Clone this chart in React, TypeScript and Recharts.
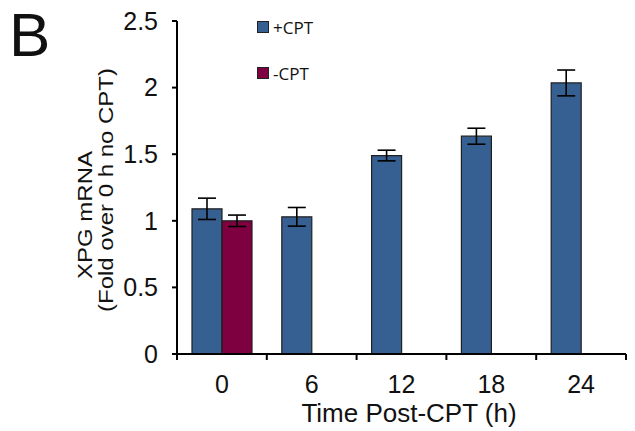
import React from 'react';
import { BarChart, Bar, XAxis, YAxis, ErrorBar, Legend, Label } from 'recharts';

const times = ['0', '6', '12', '18', '24'];
const plusCpt = [1.09, 1.03, 1.49, 1.635, 2.035];
const plusErr = [0.08, 0.07, 0.04, 0.06, 0.097];
const minusCpt = [1.0, null, null, null, null];
const minusErr = [0.043, null, null, null, null];
const yTicks = [0, 0.5, 1, 1.5, 2, 2.5];

const data = times.map((t, i) => ({
  time: t,
  plus: plusCpt[i],
  plusErr: plusErr[i],
  minus: minusCpt[i],
  minusErr: minusErr[i],
}));

const FONT = '"Liberation Sans", Arial, sans-serif';
const INK = '#111';

// Excel-style category axis: tick marks sit on the band edges, labels in the middle
const XTick = (props: any) => {
  const { x, y, payload, index, visibleTicksCount } = props;
  const half = payload.offset || 45;
  return (
    <g>
      <line x1={x - half} x2={x - half} y1={y} y2={y + 6} stroke="#000" strokeWidth={2} />
      {index === visibleTicksCount - 1 && (
        <line x1={x + half} x2={x + half} y1={y} y2={y + 6} stroke="#000" strokeWidth={2} />
      )}
      <text x={x} y={y + 39} textAnchor="middle" fontSize={25} fontFamily={FONT} fill={INK}>
        {payload.value}
      </text>
    </g>
  );
};

const YLabel = () => (
  <g fontFamily={FONT} fontSize={24} fill={INK}>
    <text transform="translate(92,215) scale(0.85,1) rotate(-90)" textAnchor="middle">
      XPG mRNA
    </text>
    <text transform="translate(113,190) scale(0.85,1) rotate(-90)" textAnchor="middle">
      (Fold over 0 h no CPT)
    </text>
  </g>
);

const XLabel = () => (
  <text x={409} y={422} textAnchor="middle" fontFamily={FONT} fontSize={26} fill={INK}>
    Time Post-CPT (h)
  </text>
);

const LegendContent = (props: any) => (
  <div style={{ fontFamily: '"Open Sans", sans-serif', fontSize: 17, color: INK }}>
    {(props.payload || []).map((p: any, i: number) => (
      <div key={i} style={{ display: 'flex', alignItems: 'center', height: 20, marginBottom: 26 }}>
        <span
          style={{
            width: 12,
            height: 12,
            background: p.color,
            border: '1px solid #222',
            boxSizing: 'border-box',
            marginRight: 4,
          }}
        />
        <span>{p.value}</span>
      </div>
    ))}
  </div>
);

export default function App() {
  return (
    <div style={{ position: 'absolute', left: 0, top: 0, width: 635, height: 431, background: '#fff' }}>
      <div
        style={{
          position: 'absolute',
          left: 9,
          top: 4,
          fontFamily: FONT,
          fontSize: 62,
          lineHeight: '62px',
          color: INK,
        }}
      >
        B
      </div>
      <BarChart
        width={635}
        height={431}
        data={data}
        margin={{ top: 21, right: 9, bottom: 0, left: 0 }}
        barCategoryGap="16.7%"
        barGap={0}
      >
        <XAxis
          dataKey="time"
          height={77}
          tickLine={false}
          tickSize={0}
          tickMargin={0}
          axisLine={{ stroke: '#000', strokeWidth: 2 }}
          tick={<XTick />}
          interval={0}
        >
          <Label content={<XLabel />} />
        </XAxis>
        <YAxis
          width={177}
          domain={[0, 2.5]}
          ticks={yTicks}
          interval={0}
          tickSize={5}
          tickMargin={14}
          tickLine={{ stroke: '#000', strokeWidth: 2 }}
          axisLine={{ stroke: '#000', strokeWidth: 2 }}
          tick={{ fontSize: 25, fontFamily: FONT, fill: INK }}
          tickFormatter={(v: number) => String(v)}
        >
          <Label content={<YLabel />} />
        </YAxis>
        <Legend
          layout="vertical"
          align="center"
          verticalAlign="middle"
          content={<LegendContent />}
          wrapperStyle={{ left: 257, top: 17, width: 120, height: 80 }}
        />
        <Bar dataKey="plus" name="+CPT" fill="#376092" stroke="#1f1f1f" strokeWidth={1.2} isAnimationActive={false}>
          <ErrorBar dataKey="plusErr" width={9} stroke="#000" strokeWidth={1.6} />
        </Bar>
        <Bar dataKey="minus" name="-CPT" fill="#7f0040" stroke="#1f1f1f" strokeWidth={1.2} isAnimationActive={false}>
          <ErrorBar dataKey="minusErr" width={9} stroke="#000" strokeWidth={1.6} />
        </Bar>
      </BarChart>
    </div>
  );
}
